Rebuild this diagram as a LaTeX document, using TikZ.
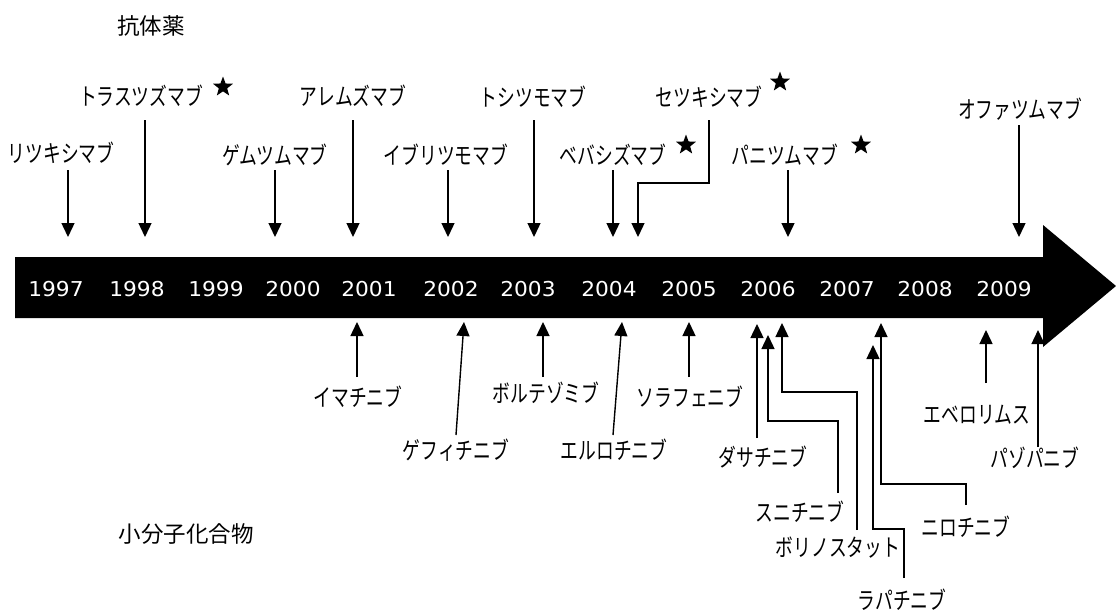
\documentclass[tikz,border=0pt]{standalone}
\usepackage{fontspec}
\usetikzlibrary{arrows.meta,shapes.geometric}
\newfontfamily\jpf[FakeStretch=0.74]{Noto Sans CJK JP}
\newfontfamily\jpk{Noto Sans CJK JP}
\newfontfamily\yrf[FakeStretch=1.06]{DejaVu Sans}
\tikzset{
  lab/.style={font=\jpf\fontsize{24}{26}\selectfont, inner sep=0pt, anchor=center},
  head/.style={font=\jpk\fontsize{22.5}{24}\selectfont, inner sep=0pt, anchor=center},
  yr/.style={text=white, font=\yrf\fontsize{20.5}{22}\selectfont, inner sep=0pt, anchor=center},
  arr/.style={line width=1.4pt, -{Triangle[width=13pt,length=14pt]}},
  starmark/.style={star, star points=5, star point ratio=2.4, fill=black, draw=none, inner sep=0pt, minimum size=21pt},
}
\begin{document}
\begin{tikzpicture}[x=1pt,y=-1pt]
\useasboundingbox (0,0) rectangle (1116,613);
% timeline arrow band
\fill[black] (15,257) -- (1043,257) -- (1043,225) -- (1116,286) -- (1043,347) -- (1043,318) -- (15,318) -- cycle;
% years
\node[yr] (y1997) at (56,289) {1997};
\node[yr] (y1998) at (137,289) {1998};
\node[yr] (y1999) at (216,289) {1999};
\node[yr] (y2000) at (293,289) {2000};
\node[yr] (y2001) at (369,289) {2001};
\node[yr] (y2002) at (451,289) {2002};
\node[yr] (y2003) at (528,289) {2003};
\node[yr] (y2004) at (609,289) {2004};
\node[yr] (y2005) at (689,289) {2005};
\node[yr] (y2006) at (768,289) {2006};
\node[yr] (y2007) at (847,289) {2007};
\node[yr] (y2008) at (925,289) {2008};
\node[yr] (y2009) at (1004,289) {2009};
% headings
\node[head] (antibody) at (151,26) {抗体薬};
\node[head] (small) at (186,534) {小分子化合物};
% top labels
\node[lab] (ritux) at (61,153) {リツキシマブ};
\node[lab] (trast) at (141,96) {トラスツズマブ};
\node[lab] (gemtu) at (275,155) {ゲムツムマブ};
\node[lab] (alemtu) at (353,96) {アレムズマブ};
\node[lab] (ibri) at (446,155) {イブリツモマブ};
\node[lab] (tosi) at (533,97) {トシツモマブ};
\node[lab] (beva) at (613,155) {ベバシズマブ};
\node[lab] (cetux) at (709,97) {セツキシマブ};
\node[lab] (pani) at (785,155) {パニツムマブ};
\node[lab] (ofa) at (1020,109) {オファツムマブ};
% stars
\node[starmark] (s1) at (223,87) {};
\node[starmark] (s2) at (686,145) {};
\node[starmark] (s3) at (780,82) {};
\node[starmark] (s4) at (861,145) {};
% top arrow end points
\coordinate (a1s) at (68,170);   \coordinate (a1e) at (68,237);
\coordinate (a2s) at (145,120);  \coordinate (a2e) at (145,237);
\coordinate (a3s) at (275,170);  \coordinate (a3e) at (275,237);
\coordinate (a4s) at (353,120);  \coordinate (a4e) at (353,237);
\coordinate (a5s) at (448,170);  \coordinate (a5e) at (448,237);
\coordinate (a6s) at (534,120);  \coordinate (a6e) at (534,237);
\coordinate (a7s) at (613,170);  \coordinate (a7e) at (613,237);
\coordinate (a8s) at (709,120);  \coordinate (a8e) at (638,237);
\coordinate (a9s) at (788,170);  \coordinate (a9e) at (788,237);
\coordinate (a10s) at (1019,125); \coordinate (a10e) at (1019,237);
\draw[arr] (a1s) -- (a1e);
\draw[arr] (a2s) -- (a2e);
\draw[arr] (a3s) -- (a3e);
\draw[arr] (a4s) -- (a4e);
\draw[arr] (a5s) -- (a5e);
\draw[arr] (a6s) -- (a6e);
\draw[arr] (a7s) -- (a7e);
\draw[arr] (a8s) -- (709,183) -- (638,183) -- (a8e);
\draw[arr] (a9s) -- (a9e);
\draw[arr] (a10s) -- (a10e);
% bottom labels
\node[lab] (imat) at (358,397) {イマチニブ};
\node[lab] (gefi) at (456,450) {ゲフィチニブ};
\node[lab] (bort) at (546,393) {ボルテゾミブ};
\node[lab] (erlo) at (614,450) {エルロチニブ};
\node[lab] (sora) at (690,397) {ソラフェニブ};
\node[lab] (dasa) at (763,457) {ダサチニブ};
\node[lab] (suni) at (800,512) {スニチニブ};
\node[lab] (vori) at (838,548) {ボリノスタット};
\node[lab] (lapa) at (902,600) {ラパチニブ};
\node[lab] (nilo) at (966,527) {ニロチニブ};
\node[lab] (evero) at (977,415) {エベロリムス};
\node[lab] (pazo) at (1035,458) {パゾパニブ};
% bottom arrow end points
\coordinate (b1s) at (357,377);  \coordinate (b1e) at (357,322);
\coordinate (b2s) at (456,435);  \coordinate (b2e) at (464,322);
\coordinate (b3s) at (543,377);  \coordinate (b3e) at (543,322);
\coordinate (b4s) at (613,435);  \coordinate (b4e) at (622,322);
\coordinate (b5s) at (689,377);  \coordinate (b5e) at (689,322);
\coordinate (b6s) at (757,438);  \coordinate (b6e) at (757,324);
\coordinate (b7s) at (838,493);  \coordinate (b7e) at (768,335);
\coordinate (b8s) at (857,530);  \coordinate (b8e) at (782,323);
\coordinate (b9s) at (904,578);  \coordinate (b9e) at (873,345);
\coordinate (b10s) at (966,505); \coordinate (b10e) at (881,323);
\coordinate (b11s) at (986,383); \coordinate (b11e) at (986,330);
\coordinate (b12s) at (1038,447); \coordinate (b12e) at (1038,330);
\draw[arr] (b1s) -- (b1e);
\draw[arr] (b2s) -- (b2e);
\draw[arr] (b3s) -- (b3e);
\draw[arr] (b4s) -- (b4e);
\draw[arr] (b5s) -- (b5e);
\draw[arr] (b6s) -- (b6e);
\draw[arr] (b7s) -- (838,421) -- (768,421) -- (b7e);
\draw[arr] (b8s) -- (857,392) -- (782,392) -- (b8e);
\draw[arr] (b9s) -- (904,529) -- (873,529) -- (b9e);
\draw[arr] (b10s) -- (966,484) -- (881,484) -- (b10e);
\draw[arr] (b11s) -- (b11e);
\draw[arr] (b12s) -- (b12e);
\end{tikzpicture}
\end{document}
